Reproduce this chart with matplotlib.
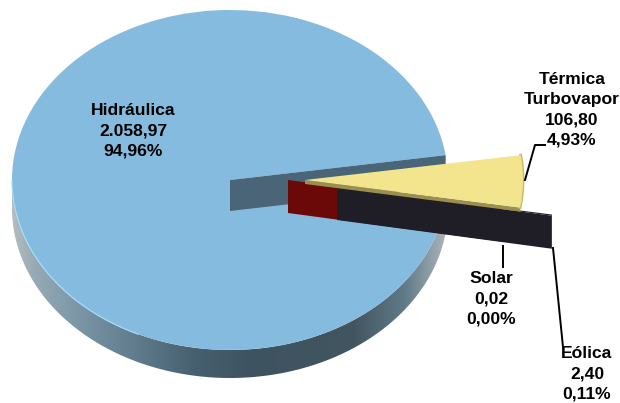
"""
Generation by source - exploded 3D style pie
"""

import numpy as np
import matplotlib
matplotlib.use("Agg")
import matplotlib.pyplot as plt
from matplotlib.colors import LinearSegmentedColormap
from matplotlib.patches import Polygon
from matplotlib.transforms import Affine2D

plt.rcParams['font.family'] = ['Liberation Sans', 'DejaVu Sans']

# ---------------------- DATA ----------------------
names = ["Hidráulica", "Solar", "Eólica", "Térmica\nTurbovapor"]
values = [2058.97, 0.02, 2.40, 106.80]
percents = [94.96, 0.00, 0.11, 4.93]

# ---------------------- STYLE ----------------------
top_colors = ["#85BBDE", "#6B0808", "#1F1E26", "#F3E48E"]
wall_colors = ["#4A6478", "#6B0808", "#1F1E26", "#9A8F4E"]
# pixel position of each slice's apex, and extrusion depth
apex = [(230, 180), (288, 180), (337, 187), (305, 180)]
depth = [31, 33, 33, 4]
RX, RY = 218, 170
RIM = 28
START = 8.4

rim_cmap = LinearSegmentedColormap.from_list(
    "rim", [(0.0, "#B4BCC0"), (0.05, "#96AAB6"), (0.2, "#6F8C9E"), (0.42, "#46606F"),
            (0.55, "#3E5361"), (0.78, "#42555F"), (0.9, "#607A88"), (1.0, "#B0B8BB")])


def fmt(v):
    s = f"{v:,.2f}"
    return s.replace(",", "X").replace(".", ",").replace("X", ".")


def point(center, ang, dy=0):
    # ang in degrees on the unit pie, y axis runs downwards in pixels
    a = np.radians(ang)
    return center[0] + RX * np.cos(a), center[1] - RY * np.sin(a) + dy


fig = plt.figure(figsize=(6.2, 4.03), dpi=100)
ax = fig.add_axes([0, 0, 1, 1])

wedges, _ = ax.pie(values, startangle=START, radius=1, wedgeprops={"linewidth": 0})

for i, w in enumerate(wedges):
    w.set_facecolor(top_colors[i])
    w.set_transform(Affine2D().scale(RX, -RY).translate(*apex[i]) + ax.transData)
    w.set_zorder(2 + i * 2 + 1)
    # cut face along the slice's edge
    p = point(apex[i], w.theta1)
    quad = [apex[i], p, (p[0], p[1] + depth[i]), (apex[i][0], apex[i][1] + depth[i])]
    z = 3.5 if i == 0 else 2 + i * 2
    ax.add_patch(Polygon(quad, closed=True, fc=wall_colors[i], ec="none", zorder=z))

# rim of the big slice, gradient along x clipped to the rim outline
h = wedges[0]
angs = np.arange(180, h.theta2 + 1, 1.0)
upper = [point(apex[0], a) for a in angs]
lower = [point(apex[0], a, RIM) for a in angs[::-1]]
rim = Polygon(upper + lower, closed=True, fc="none", ec="none", transform=ax.transData)
ax.add_patch(rim)
grad = ax.imshow(np.linspace(0, 1, 256)[None, :], cmap=rim_cmap, aspect="auto",
                 extent=(12, 449, 403, 0), zorder=1, interpolation="bilinear")
grad.set_clip_path(rim)

# light edge on the lower left of the big slice
arc = np.arange(180, 246, 1.0)
ax.plot(*zip(*[point(apex[0], a) for a in arc]), color="#A6DDF5", lw=0.9, zorder=3.2)

# rim of the yellow slice
t = wedges[3]
arc = np.linspace(t.theta1, t.theta2, 30)
ax.plot(*zip(*[point(apex[3], a) for a in arc]), color="#C8BA6A", lw=2, zorder=9)
wedges[3].set_zorder(10)

# ---------------------- LABELS ----------------------
label_pos = [(133, 131), (491, 299), (587, 374), (572, 110)]
for i in range(len(names)):
    txt = f"{names[i]}\n{fmt(values[i])}\n{fmt(percents[i])}%"
    ax.text(label_pos[i][0], label_pos[i][1], txt, ha="center", va="center",
            fontsize=12.6, fontweight="bold", color="black", linespacing=1.42, zorder=20)

# leader lines
ax.plot([525, 535, 545], [180, 145, 145], color="black", lw=1.4, zorder=15)
ax.plot([503, 503], [246, 267], color="black", lw=1.4, zorder=15)
ax.plot([553, 563], [248, 347], color="black", lw=1.4, zorder=15)

ax.set_aspect("auto")
ax.set_xlim(0, 620)
ax.set_ylim(403, 0)
ax.axis("off")

fig.savefig("out.png", dpi=100)
